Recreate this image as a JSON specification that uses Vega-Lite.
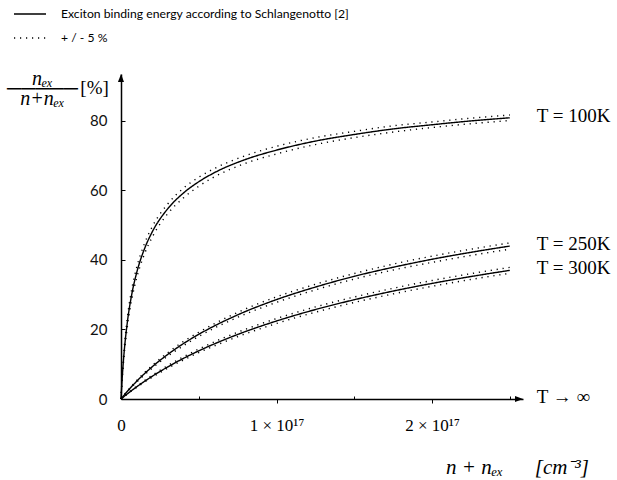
{
  "$schema": "https://vega.github.io/schema/vega-lite/v6.json",
  "width": 402,
  "height": 325,
  "autosize": {"type": "none"},
  "padding": {"left": 121, "top": 74, "right": 94, "bottom": 81},
  "background": "white",
  "config": {"view": {"stroke": null}},
  "datasets": {
    "curves": [
      {"T": "100K", "n": 0, "mid": 0, "hi": 0, "lo": 0},
      {"T": "100K", "n": 2.5e14, "mid": 2.1, "hi": 2.3, "lo": 1.9},
      {"T": "100K", "n": 5e14, "mid": 4.1, "hi": 4.4, "lo": 3.8},
      {"T": "100K", "n": 1e15, "mid": 7.6, "hi": 8.2, "lo": 7.0},
      {"T": "100K", "n": 2e15, "mid": 13.4, "hi": 14.3, "lo": 12.5},
      {"T": "100K", "n": 4e15, "mid": 21.8, "hi": 23.1, "lo": 20.5},
      {"T": "100K", "n": 7e15, "mid": 30.3, "hi": 31.8, "lo": 28.8},
      {"T": "100K", "n": 1e16, "mid": 36.2, "hi": 37.7, "lo": 34.7},
      {"T": "100K", "n": 1.5e16, "mid": 43.1, "hi": 44.6, "lo": 41.6},
      {"T": "100K", "n": 2e16, "mid": 48.0, "hi": 49.5, "lo": 46.5},
      {"T": "100K", "n": 3e16, "mid": 54.7, "hi": 56.1, "lo": 53.3},
      {"T": "100K", "n": 4e16, "mid": 59.2, "hi": 60.6, "lo": 57.8},
      {"T": "100K", "n": 5e16, "mid": 62.5, "hi": 63.8, "lo": 61.2},
      {"T": "100K", "n": 6e16, "mid": 65.1, "hi": 66.3, "lo": 63.9},
      {"T": "100K", "n": 8e16, "mid": 68.9, "hi": 70.0, "lo": 67.8},
      {"T": "100K", "n": 1e17, "mid": 71.6, "hi": 72.7, "lo": 70.5},
      {"T": "100K", "n": 1.25e17, "mid": 74.2, "hi": 75.2, "lo": 73.2},
      {"T": "100K", "n": 1.5e17, "mid": 76.1, "hi": 77.0, "lo": 75.2},
      {"T": "100K", "n": 1.75e17, "mid": 77.7, "hi": 78.6, "lo": 76.8},
      {"T": "100K", "n": 2e17, "mid": 78.9, "hi": 79.7, "lo": 78.1},
      {"T": "100K", "n": 2.25e17, "mid": 80.0, "hi": 80.8, "lo": 79.2},
      {"T": "100K", "n": 2.5e17, "mid": 80.9, "hi": 81.7, "lo": 80.1},
      {"T": "250K", "n": 0, "mid": 0, "hi": 0, "lo": 0},
      {"T": "250K", "n": 1e15, "mid": 0.56, "hi": 0.59, "lo": 0.53},
      {"T": "250K", "n": 2.5e15, "mid": 1.37, "hi": 1.44, "lo": 1.30},
      {"T": "250K", "n": 5e15, "mid": 2.66, "hi": 2.79, "lo": 2.53},
      {"T": "250K", "n": 1e16, "mid": 5.06, "hi": 5.29, "lo": 4.83},
      {"T": "250K", "n": 2e16, "mid": 9.25, "hi": 9.64, "lo": 8.86},
      {"T": "250K", "n": 3e16, "mid": 12.8, "hi": 13.3, "lo": 12.3},
      {"T": "250K", "n": 4e16, "mid": 15.9, "hi": 16.5, "lo": 15.3},
      {"T": "250K", "n": 5e16, "mid": 18.6, "hi": 19.2, "lo": 18.0},
      {"T": "250K", "n": 7.5e16, "mid": 24.2, "hi": 24.9, "lo": 23.5},
      {"T": "250K", "n": 1e17, "mid": 28.6, "hi": 29.4, "lo": 27.8},
      {"T": "250K", "n": 1.25e17, "mid": 32.2, "hi": 33.0, "lo": 31.4},
      {"T": "250K", "n": 1.5e17, "mid": 35.3, "hi": 36.1, "lo": 34.5},
      {"T": "250K", "n": 1.75e17, "mid": 37.9, "hi": 38.8, "lo": 37.1},
      {"T": "250K", "n": 2e17, "mid": 40.2, "hi": 41.1, "lo": 39.3},
      {"T": "250K", "n": 2.25e17, "mid": 42.2, "hi": 43.1, "lo": 41.3},
      {"T": "250K", "n": 2.5e17, "mid": 44.0, "hi": 44.9, "lo": 43.1},
      {"T": "300K", "n": 0, "mid": 0, "hi": 0, "lo": 0},
      {"T": "300K", "n": 1e15, "mid": 0.37, "hi": 0.39, "lo": 0.35},
      {"T": "300K", "n": 2.5e15, "mid": 0.92, "hi": 0.96, "lo": 0.88},
      {"T": "300K", "n": 5e15, "mid": 1.80, "hi": 1.89, "lo": 1.71},
      {"T": "300K", "n": 1e16, "mid": 3.48, "hi": 3.64, "lo": 3.32},
      {"T": "300K", "n": 2e16, "mid": 6.52, "hi": 6.81, "lo": 6.23},
      {"T": "300K", "n": 3e16, "mid": 9.22, "hi": 9.60, "lo": 8.84},
      {"T": "300K", "n": 4e16, "mid": 11.65, "hi": 12.11, "lo": 11.19},
      {"T": "300K", "n": 5e16, "mid": 13.85, "hi": 14.37, "lo": 13.33},
      {"T": "300K", "n": 7.5e16, "mid": 18.56, "hi": 19.20, "lo": 17.92},
      {"T": "300K", "n": 1e17, "mid": 22.44, "hi": 23.15, "lo": 21.73},
      {"T": "300K", "n": 1.25e17, "mid": 25.73, "hi": 26.49, "lo": 24.97},
      {"T": "300K", "n": 1.5e17, "mid": 28.56, "hi": 29.35, "lo": 27.77},
      {"T": "300K", "n": 1.75e17, "mid": 31.05, "hi": 31.87, "lo": 30.23},
      {"T": "300K", "n": 2e17, "mid": 33.25, "hi": 34.08, "lo": 32.42},
      {"T": "300K", "n": 2.25e17, "mid": 35.23, "hi": 36.07, "lo": 34.39},
      {"T": "300K", "n": 2.5e17, "mid": 37.01, "hi": 37.86, "lo": 36.16}
    ],
    "arrows": [
      {"n": 2.585e17, "p": 0, "a": 0},
      {"n": 0, "p": 93.5, "a": -90}
    ],
    "labels": [
      {"label": "T = 100K", "n": 2.5e17, "p": 80.9},
      {"label": "T = 250K", "n": 2.5e17, "p": 44},
      {"label": "T = 300K", "n": 2.5e17, "p": 37},
      {"label": "T → ∞", "n": 2.5e17, "p": 0}
    ],
    "unit": [
      {"label": "[%]", "n": -1.7e16, "p": 89.5}
    ]
  },
  "layer": [
    {
      "data": {"name": "curves"},
      "transform": [{"fold": ["mid", "hi", "lo"], "as": ["band", "p"]}],
      "mark": {"type": "line", "color": "black", "strokeWidth": 1.4, "interpolate": "monotone", "clip": false},
      "encoding": {
        "x": {
          "field": "n", "type": "quantitative",
          "scale": {"domain": [0, 2.585e17], "nice": false, "zero": false},
          "axis": {
            "values": [0, 5e16, 1e17, 1.5e17, 2e17, 2.5e17],
            "labelExpr": "datum.value == 0 ? '0' : (datum.value == 1e17 ? '1 × 10¹⁷' : (datum.value == 2e17 ? '2 × 10¹⁷' : ''))",
            "title": "n + nₑₓ\u2003\u2002[cm⁻³]",
            "titleFont": "Liberation Serif", "titleFontStyle": "italic", "titleFontWeight": "normal", "titleFontSize": 21, "titleColor": "#000",
            "titleX": 396, "titleY": 74, "titleAlign": "center", "titleBaseline": "alphabetic",
            "labelFont": "Liberation Serif", "labelFontSize": 17, "labelColor": "#000", "labelPadding": 14,
            "labelFlush": false, "labelOverlap": false,
            "domainColor": "#000", "domainWidth": 1.5,
            "tickColor": "#000", "tickWidth": 1,
            "tickSize": {"condition": {"test": "datum.value == 0 || datum.value == 1e17 || datum.value == 2e17", "value": 4}, "value": -3},
            "tickOpacity": {"condition": {"test": "datum.value == 0", "value": 0}, "value": 1},
            "grid": false
          }
        },
        "y": {
          "field": "p", "type": "quantitative",
          "scale": {"domain": [0, 93.5], "nice": false},
          "axis": {
            "values": [0, 20, 40, 60, 80],
            "tickSize": -4, "tickColor": "#000", "tickWidth": 1,
            "labelFont": "Lato", "labelFontSize": 15, "labelColor": "#111", "labelPadding": 18,
            "title": ["nₑₓ", "─────", "n+nₑₓ"],
            "titleAngle": 0, "titleX": -79, "titleY": 10, "titleAlign": "center", "titleBaseline": "alphabetic",
            "titleLineHeight": 10,
            "titleFont": "Liberation Serif", "titleFontStyle": "italic", "titleFontWeight": "normal", "titleFontSize": 20, "titleColor": "#000",
            "domainColor": "#000", "domainWidth": 1.5,
            "grid": false
          }
        },
        "detail": {"field": "T"},
        "strokeDash": {
          "field": "band", "type": "nominal",
          "scale": {"domain": ["mid", "hi", "lo"], "range": [[1, 0], [1.2, 4.8], [1.2, 4.8]]},
          "legend": {
            "values": ["mid", "hi"],
            "labelExpr": "datum.value == 'mid' ? 'Exciton binding energy according to Schlangenotto [2]' : '+ / - 5 %'",
            "title": null,
            "orient": "none", "legendX": -108, "legendY": -77,
            "symbolType": "stroke", "symbolSize": 1024, "symbolStrokeWidth": 1.4, "symbolStrokeColor": "black",
            "labelFont": "Lato", "labelFontSize": 12.2, "labelColor": "#000", "labelOffset": 14, "labelLimit": 0,
            "rowPadding": -12
          }
        }
      }
    },
    {
      "data": {"name": "arrows"},
      "mark": {"type": "point", "shape": "M0,0L-1,-0.38L-1,0.38Z", "filled": true, "color": "black", "size": 256, "opacity": 1, "clip": false},
      "encoding": {
        "x": {"field": "n", "type": "quantitative"},
        "y": {"field": "p", "type": "quantitative"},
        "angle": {"field": "a", "type": "quantitative", "scale": null}
      }
    },
    {
      "data": {"name": "labels"},
      "mark": {"type": "text", "align": "left", "baseline": "middle", "dx": 27, "dy": -2, "font": "Liberation Serif", "fontSize": 19, "color": "#000", "clip": false},
      "encoding": {
        "x": {"field": "n", "type": "quantitative"},
        "y": {"field": "p", "type": "quantitative"},
        "text": {"field": "label"}
      }
    },
    {
      "data": {"name": "unit"},
      "mark": {"type": "text", "align": "center", "baseline": "middle", "font": "Liberation Serif", "fontSize": 19, "color": "#000", "clip": false},
      "encoding": {
        "x": {"field": "n", "type": "quantitative"},
        "y": {"field": "p", "type": "quantitative"},
        "text": {"field": "label"}
      }
    }
  ]
}
